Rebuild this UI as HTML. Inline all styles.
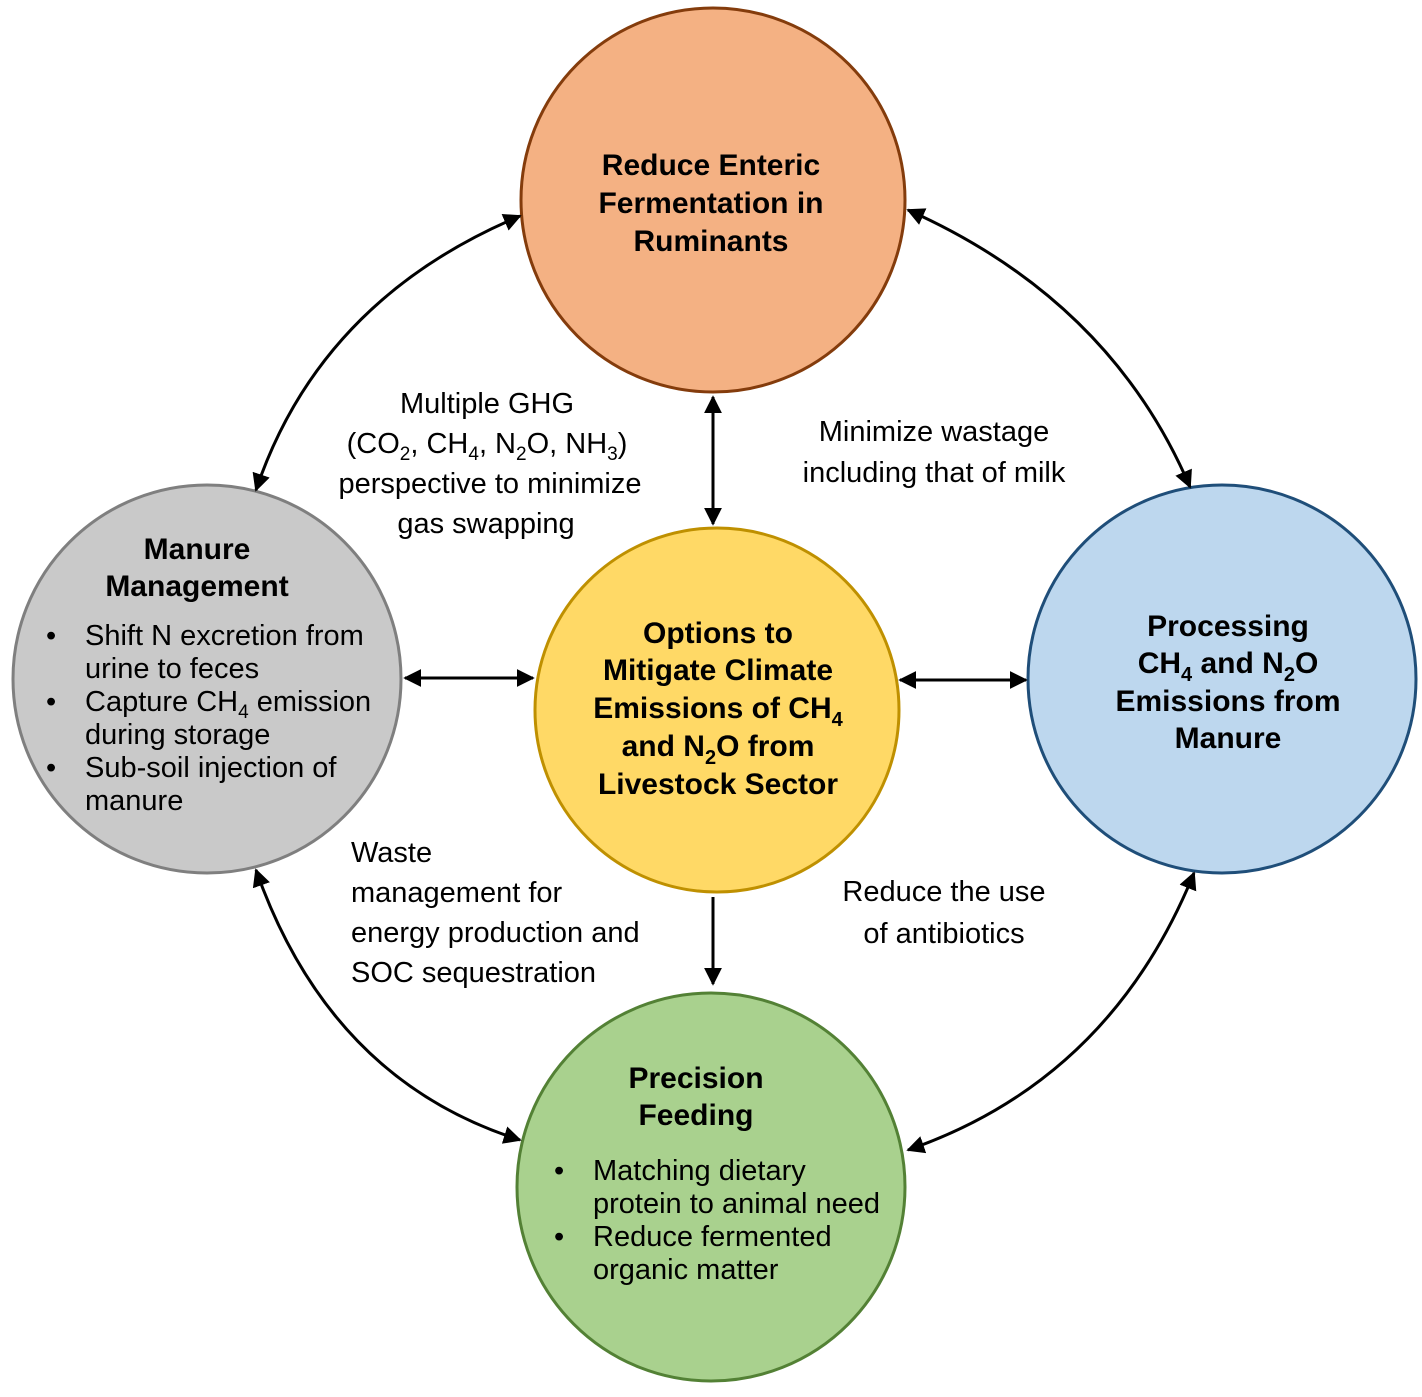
<!DOCTYPE html>
<html><head><meta charset="utf-8"><style>
body{margin:0;background:#fff;}
svg text{font-family:"Liberation Sans",Arial,sans-serif;}
.b{font-weight:bold;font-size:30px;}
.r{font-size:29px;}
</style></head><body>
<svg width="1422" height="1392" viewBox="0 0 1422 1392" xmlns="http://www.w3.org/2000/svg">
<defs>
<marker id="a" viewBox="0 0 10 10" refX="9" refY="5" markerWidth="6" markerHeight="6" orient="auto-start-reverse">
<path d="M0,0 L10,5 L0,10 z" fill="#000"/></marker>
</defs>
<circle cx="713" cy="200" r="192" fill="#F4B183" stroke="#843C0C" stroke-width="3"/>
<circle cx="207" cy="679" r="194" fill="#C9C9C9" stroke="#7F7F7F" stroke-width="3"/>
<circle cx="717" cy="710" r="182" fill="#FFD966" stroke="#BF9000" stroke-width="3"/>
<circle cx="1222" cy="679" r="194" fill="#BDD7EE" stroke="#1F4E79" stroke-width="3"/>
<circle cx="711" cy="1187" r="194" fill="#A9D18E" stroke="#538135" stroke-width="3"/>
<g stroke="#000" stroke-width="3" fill="none" marker-start="url(#a)" marker-end="url(#a)">
<path d="M520,216 Q320,300 256,490"/>
<path d="M908,210 Q1110,300 1190,487"/>
<path d="M256,870 Q330,1080 520,1140"/>
<path d="M1194,873 Q1110,1080 908,1150"/>
<path d="M713,397 L713,524"/>
<path d="M405,678 L533,678"/>
<path d="M900,680 L1026,680"/>
<path d="M713,897 L713,984" marker-start="none"/>
</g>
<g class="b" text-anchor="middle">
<text x="711" y="175">Reduce Enteric</text>
<text x="711" y="213">Fermentation in</text>
<text x="711" y="251">Ruminants</text>
<text x="197" y="559">Manure</text>
<text x="197" y="596">Management</text>
<text x="718" y="643">Options to</text>
<text x="718" y="680">Mitigate Climate</text>
<text x="718" y="718">Emissions of CH<tspan font-size="20" dy="8">4</tspan></text>
<text x="718" y="756">and N<tspan font-size="20" dy="8">2</tspan><tspan dy="-8">O from</tspan></text>
<text x="718" y="794">Livestock Sector</text>
<text x="1228" y="636">Processing</text>
<text x="1228" y="673">CH<tspan font-size="20" dy="8">4</tspan><tspan dy="-8"> and N</tspan><tspan font-size="20" dy="8">2</tspan><tspan dy="-8">O</tspan></text>
<text x="1228" y="711">Emissions from</text>
<text x="1228" y="748">Manure</text>
<text x="696" y="1088">Precision</text>
<text x="696" y="1125">Feeding</text>
</g>
<g class="r">
<text x="46" y="645">•</text><text x="85" y="645">Shift N excretion from</text>
<text x="85" y="678">urine to feces</text>
<text x="46" y="711">•</text><text x="85" y="711">Capture CH<tspan font-size="19" dy="7">4</tspan><tspan dy="-7"> emission</tspan></text>
<text x="85" y="744">during storage</text>
<text x="46" y="777">•</text><text x="85" y="777">Sub-soil injection of</text>
<text x="85" y="810">manure</text>
<text x="554" y="1180">•</text><text x="593" y="1180">Matching dietary</text>
<text x="593" y="1213">protein to animal need</text>
<text x="554" y="1246">•</text><text x="593" y="1246">Reduce fermented</text>
<text x="593" y="1279">organic matter</text>
</g>
<g class="r" text-anchor="middle">
<text x="487" y="413">Multiple GHG</text>
<text x="487" y="453">(CO<tspan font-size="19" dy="7">2</tspan><tspan dy="-7">, CH</tspan><tspan font-size="19" dy="7">4</tspan><tspan dy="-7">, N</tspan><tspan font-size="19" dy="7">2</tspan><tspan dy="-7">O, NH</tspan><tspan font-size="19" dy="7">3</tspan><tspan dy="-7">)</tspan></text>
<text x="490" y="493">perspective to minimize</text>
<text x="486" y="533">gas swapping</text>
<text x="934" y="441">Minimize wastage</text>
<text x="934" y="482">including that of milk</text>
<text x="944" y="901">Reduce the use</text>
<text x="944" y="943">of antibiotics</text>
</g>
<g class="r">
<text x="351" y="862">Waste</text>
<text x="351" y="902">management for</text>
<text x="351" y="942">energy production and</text>
<text x="351" y="982">SOC sequestration</text>
</g>
</svg>
</body></html>
